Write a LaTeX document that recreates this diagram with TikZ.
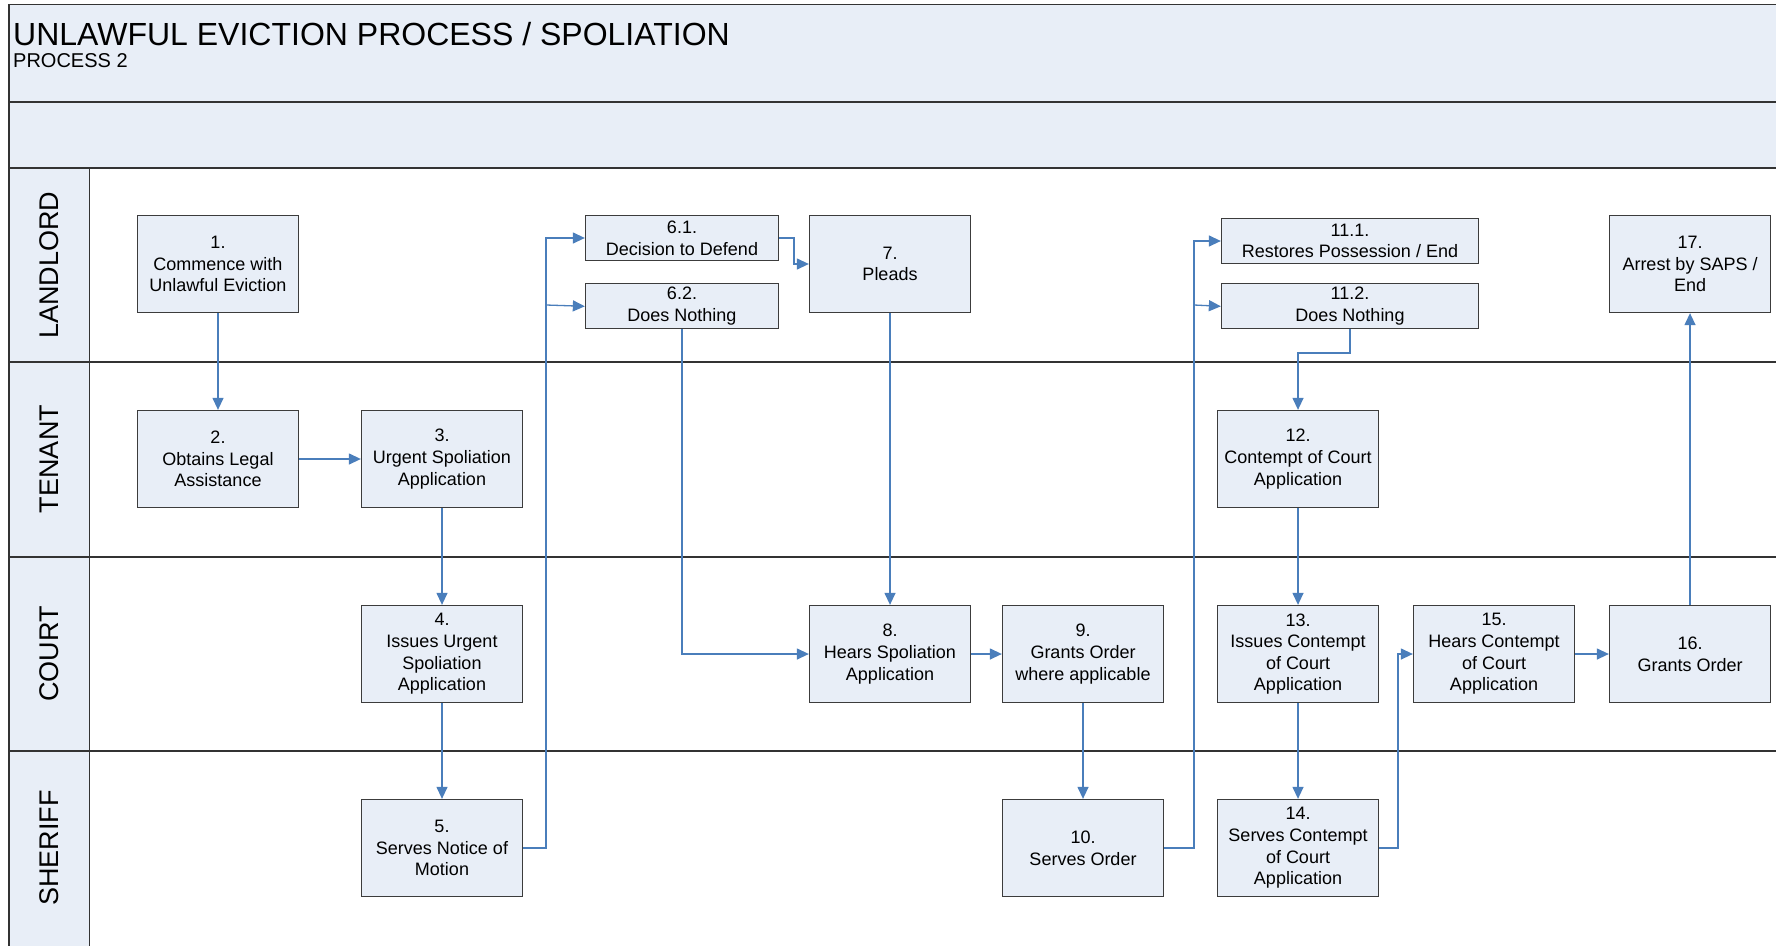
\documentclass[tikz,border=0pt]{standalone}
\usepackage{fontspec}
\setmainfont{Liberation Sans}
\usetikzlibrary{positioning,arrows.meta}

\definecolor{lanefill}{HTML}{E8EEF7}
\definecolor{laneline}{HTML}{333333}
\definecolor{boxline}{HTML}{3C3C3C}
\definecolor{flowblue}{HTML}{4A7EBB}

\tikzset{
  stepbox/.style={draw=boxline, fill=lanefill, line width=1.3pt,
    minimum width=161pt, minimum height=97pt, inner sep=2pt,
    align=center, font=\fontsize{18}{21.6}\selectfont},
  smallbox/.style={stepbox, minimum height=45pt},
  flow/.style={draw=flowblue, line width=1.3pt, -{Triangle[length=12pt,width=11pt]}},
  lanelabel/.style={rotate=90, inner sep=0, font=\fontsize{27}{32}\selectfont},
}

\begin{document}
\begin{tikzpicture}[x=1pt, y=-1pt]
\clip (0,0) rectangle (1776,945);
\fill[white] (0,0) rectangle (1776,945);

% header bands and lane column
\filldraw[fill=lanefill, draw=laneline, line width=1.5pt] (9,4.5) rectangle (1800,102);
\filldraw[fill=lanefill, draw=laneline, line width=1.5pt] (9,102) rectangle (1800,167.5);
\filldraw[fill=lanefill, draw=laneline, line width=1.5pt] (9,167.5) rectangle (89.5,960);
\draw[laneline, line width=2pt] (9,167.5) -- (1800,167.5);
\foreach \y in {362,556.5,751}
	\draw[laneline, line width=2pt] (9,\y) -- (1800,\y);

\node[anchor=base west, inner sep=0, font=\fontsize{32}{38}\selectfont] (title) at (13,45) {UNLAWFUL EVICTION PROCESS / SPOLIATION};
\node[anchor=base west, inner sep=0, font=\fontsize{20}{24}\selectfont] (subtitle) at (13,67) {PROCESS 2};

\node[lanelabel] (landlord) at (49,265) {LANDLORD};
\node[lanelabel] (tenant) at (49,459) {TENANT};
\node[lanelabel] (court) at (49,654) {COURT};
\node[lanelabel] (sheriff) at (49,848) {SHERIFF};

% steps
\node[stepbox] (b1) at (218,264) {1.\\Commence with\\Unlawful Eviction};
\node[stepbox] (b2) at (218,459) {2.\\Obtains Legal\\Assistance};
\node[stepbox] (b3) at (442,459) {3.\\Urgent Spoliation\\Application};
\node[stepbox] (b4) at (442,654) {4.\\Issues Urgent\\Spoliation\\Application};
\node[stepbox] (b5) at (442,848) {5.\\Serves Notice of\\Motion};
\node[smallbox, minimum width=193pt] (b61) at (682,238) {6.1.\\Decision to Defend};
\node[smallbox, minimum width=193pt, below=22pt of b61] (b62) {6.2.\\Does Nothing};
\node[stepbox] (b7) at (890,264) {7.\\Pleads};
\node[stepbox] (b8) at (890,654) {8.\\Hears Spoliation\\Application};
\node[stepbox] (b9) at (1083,654) {9.\\Grants Order\\where applicable};
\node[stepbox] (b10) at (1083,848) {10.\\Serves Order};
\node[smallbox, minimum width=257pt] (b111) at (1350,241) {11.1.\\Restores Possession / End};
\node[smallbox, minimum width=257pt, below=19pt of b111] (b112) {11.2.\\Does Nothing};
\node[stepbox] (b12) at (1298,459) {12.\\Contempt of Court\\Application};
\node[stepbox] (b13) at (1298,654) {13.\\Issues Contempt\\of Court\\Application};
\node[stepbox] (b14) at (1298,848) {14.\\Serves Contempt\\of Court\\Application};
\node[stepbox] (b15) at (1494,654) {15.\\Hears Contempt\\of Court\\Application};
\node[stepbox] (b16) at (1690,654) {16.\\Grants Order};
\node[stepbox] (b17) at (1690,264) {17.\\Arrest by SAPS /\\End};

% bend points
\coordinate (j5) at (546,305);
\coordinate (k7) at (794,264);
\coordinate (j10) at (1194,305);
\coordinate (k12) at (1324,353);
\coordinate (j14) at (1398,848);

% flows
\draw[flow] (b1) -- (b2);
\draw[flow] (b2) -- (b3);
\draw[flow] (b3) -- (b4);
\draw[flow] (b4) -- (b5);
\draw[flow] (b5.east) -| (j5) |- (b61.west);
\draw[flow] (j5) -- (b62.west);
\draw[flow] (b61.east) -| (k7) -- (b7.west);
\draw[flow] (b62.south) |- (b8.west);
\draw[flow] (b7) -- (b8);
\draw[flow] (b8) -- (b9);
\draw[flow] (b9) -- (b10);
\draw[flow] (b10.east) -| (j10) |- (b111.west);
\draw[flow] (j10) -- (b112.west);
\draw[flow] (b112.south) |- (k12) -| (b12.north);
\draw[flow] (b12) -- (b13);
\draw[flow] (b13) -- (b14);
\draw[flow] (b14.east) -- (j14) |- (b15.west);
\draw[flow] (b15) -- (b16);
\draw[flow] (b16) -- (b17);
\end{tikzpicture}
\end{document}
